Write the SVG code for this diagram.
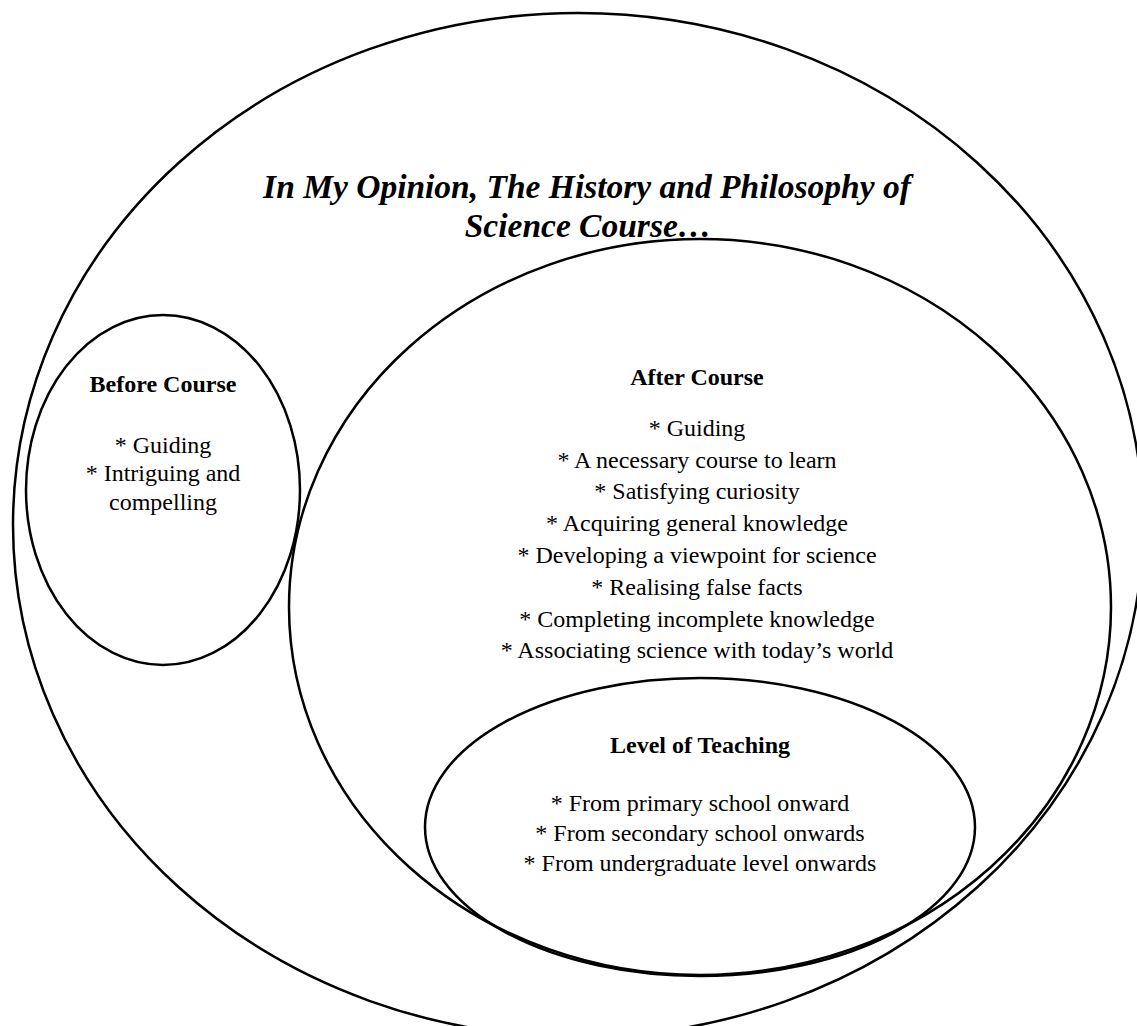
<svg xmlns="http://www.w3.org/2000/svg" width="1137" height="1026" viewBox="0 0 1137 1026">
<style>
.shape{fill:none;stroke:#000;stroke-width:2.5}
text{font-family:"Liberation Serif","Times New Roman",serif;fill:#000;text-anchor:middle}
.title{font-size:33.5px;font-weight:bold;font-style:italic}
.head{font-size:24px;font-weight:bold}
.item{font-size:24px}
</style>
<rect width="1137" height="1026" fill="#fff"/>
<g id="outer">
<ellipse class="shape" cx="578" cy="525" rx="565" ry="512"/>
<text class="title" x="587" y="198">In My Opinion, The History and Philosophy of</text>
<text class="title" x="588" y="237">Science Course…</text>
</g>
<g id="before">
<ellipse class="shape" cx="163" cy="490" rx="137" ry="175"/>
<text class="head" x="163" y="392">Before Course</text>
<text class="item" x="163" y="453">* Guiding</text>
<text class="item" x="163" y="481">* Intriguing and</text>
<text class="item" x="163" y="510">compelling</text>
</g>
<g id="after">
<ellipse class="shape" cx="700" cy="607" rx="411" ry="368"/>
<text class="head" x="697" y="385">After Course</text>
<text class="item" x="697" y="436">* Guiding</text>
<text class="item" x="697" y="468">* A necessary course to learn</text>
<text class="item" x="697" y="499">* Satisfying curiosity</text>
<text class="item" x="697" y="531">* Acquiring general knowledge</text>
<text class="item" x="697" y="563">* Developing a viewpoint for science</text>
<text class="item" x="697" y="595">* Realising false facts</text>
<text class="item" x="697" y="627">* Completing incomplete knowledge</text>
<text class="item" x="697" y="658">* Associating science with today’s world</text>
</g>
<g id="level">
<ellipse class="shape" cx="700" cy="827" rx="275" ry="149"/>
<text class="head" x="700" y="753">Level of Teaching</text>
<text class="item" x="700" y="811">* From primary school onward</text>
<text class="item" x="700" y="841">* From secondary school onwards</text>
<text class="item" x="700" y="871">* From undergraduate level onwards</text>
</g>
<g id="connectors"></g>
</svg>
